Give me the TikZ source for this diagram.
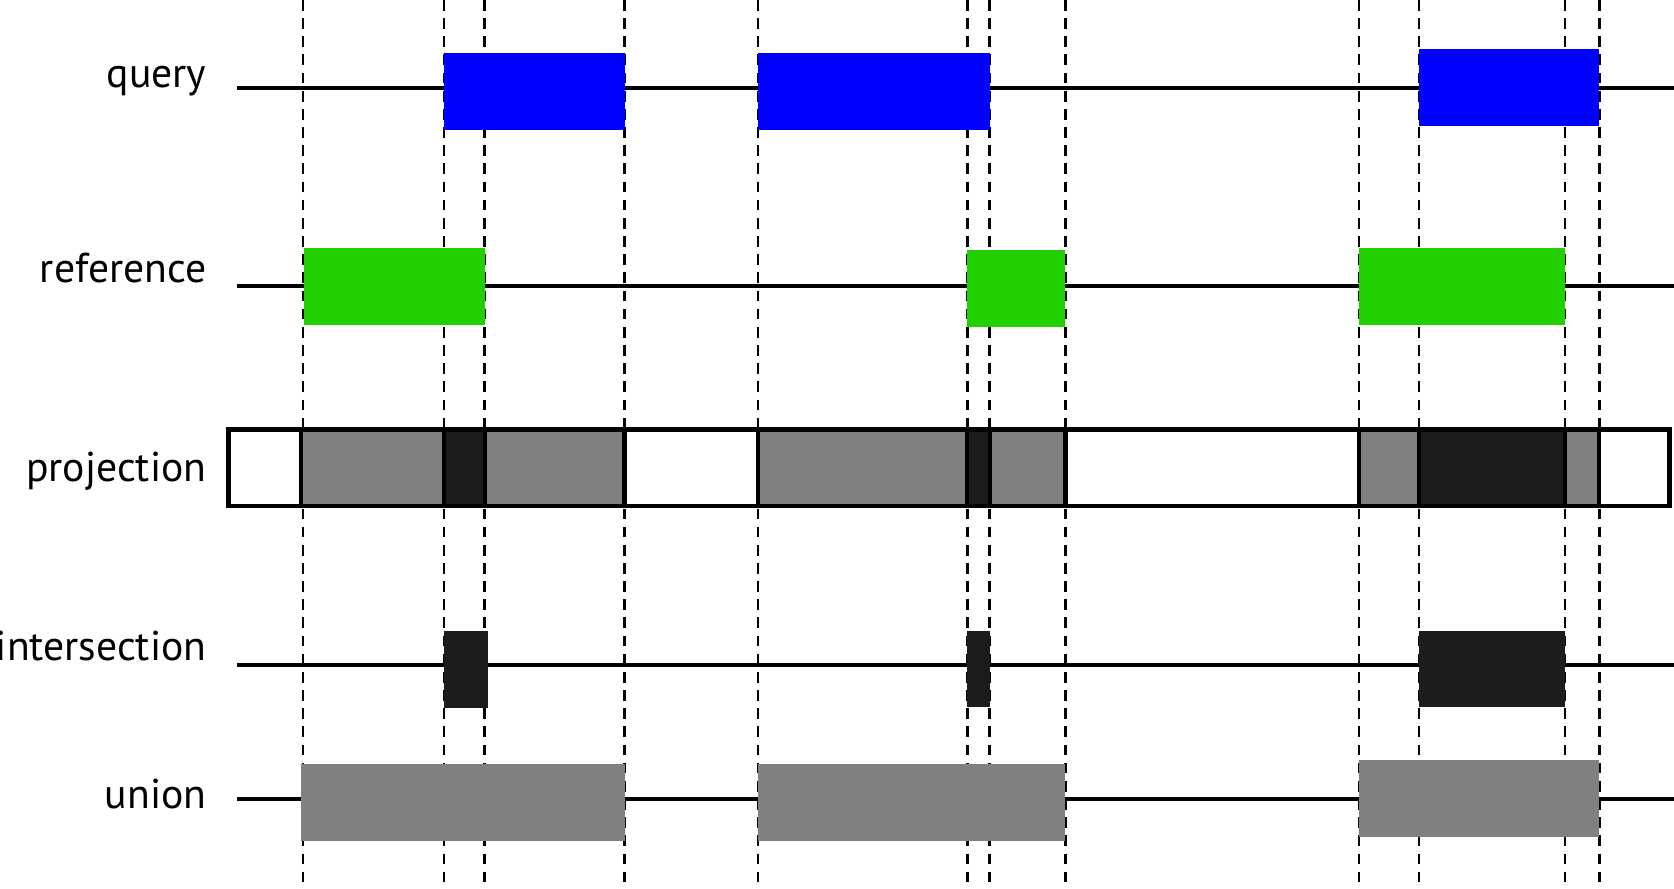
\documentclass[tikz,border=0pt]{standalone}
\usepackage{fontspec}
\setmainfont{PT Sans}
\definecolor{qblue}{HTML}{0000FF}
\definecolor{rgreen}{HTML}{22D000}
\definecolor{ugray}{HTML}{808080}
\definecolor{idark}{HTML}{1C1C1C}
\begin{document}
\begin{tikzpicture}[x=0.01cm,y=-0.01cm,
  track/.style={line width=0.38mm},
  guide/.style={line width=0.24mm,dash pattern=on 0.1cm off 0.07cm},
  qbox/.style={fill=qblue},
  rbox/.style={fill=rgreen},
  ubox/.style={fill=ugray},
  ibox/.style={fill=idark},
  divider/.style={line width=0.4mm},
  lbl/.style={anchor=base east,font=\fontsize{11.1pt}{13pt}\selectfont,inner sep=0pt}]
\useasboundingbox (0,0) rectangle (1568,832);
% labels
\node[lbl] (lq) at (194,82) {query};
\node[lbl] (lr) at (194,265) {reference};
\node[lbl] (lp) at (194,451) {projection};
\node[lbl] (li) at (194,619) {intersection};
\node[lbl] (lu) at (194,757) {union};
% tracks
\draw[track] (222,82) -- (1568,82);
\draw[track] (222,268) -- (1568,268);
\draw[track] (222,623) -- (1568,623);
\draw[track] (222,748) -- (1568,748);
% guides
\foreach \x in {284,416,454,585,710,906,927,998,1273,1329,1466,1498}
  \draw[guide] (\x,0) -- (\x,832);
% query
\fill[qbox] (416,50) rectangle (585,122);
\fill[qbox] (710,50) rectangle (927,122);
\fill[qbox] (1329,46) rectangle (1498,118);
% reference
\fill[rbox] (285,232) rectangle (454,304);
\fill[rbox] (906,234) rectangle (998,306);
\fill[rbox] (1273,232) rectangle (1466,304);
% projection
\fill[white] (214,402) rectangle (1564,474);
\fill[ubox] (282,402) rectangle (416,474);
\fill[ibox] (416,402) rectangle (454,474);
\fill[ubox] (454,402) rectangle (585,474);
\fill[ubox] (710,402) rectangle (906,474);
\fill[ibox] (906,402) rectangle (927,474);
\fill[ubox] (927,402) rectangle (998,474);
\fill[ubox] (1273,402) rectangle (1329,474);
\fill[ibox] (1329,402) rectangle (1466,474);
\fill[ubox] (1466,402) rectangle (1498,474);
\foreach \x in {282,416,454,585,710,906,927,998,1273,1329,1466,1498}
  \draw[divider] (\x,402) -- (\x,474);
\draw[line width=0.45mm] (214,402) rectangle (1564,474);
% intersection
\fill[ibox] (416,591) rectangle (457,663);
\fill[ibox] (906,591) rectangle (927,662);
\fill[ibox] (1329,591) rectangle (1466,662);
% union
\fill[ubox] (282,716) rectangle (585,788);
\fill[ubox] (710,716) rectangle (998,788);
\fill[ubox] (1273,712) rectangle (1498,784);
\end{tikzpicture}
\end{document}
